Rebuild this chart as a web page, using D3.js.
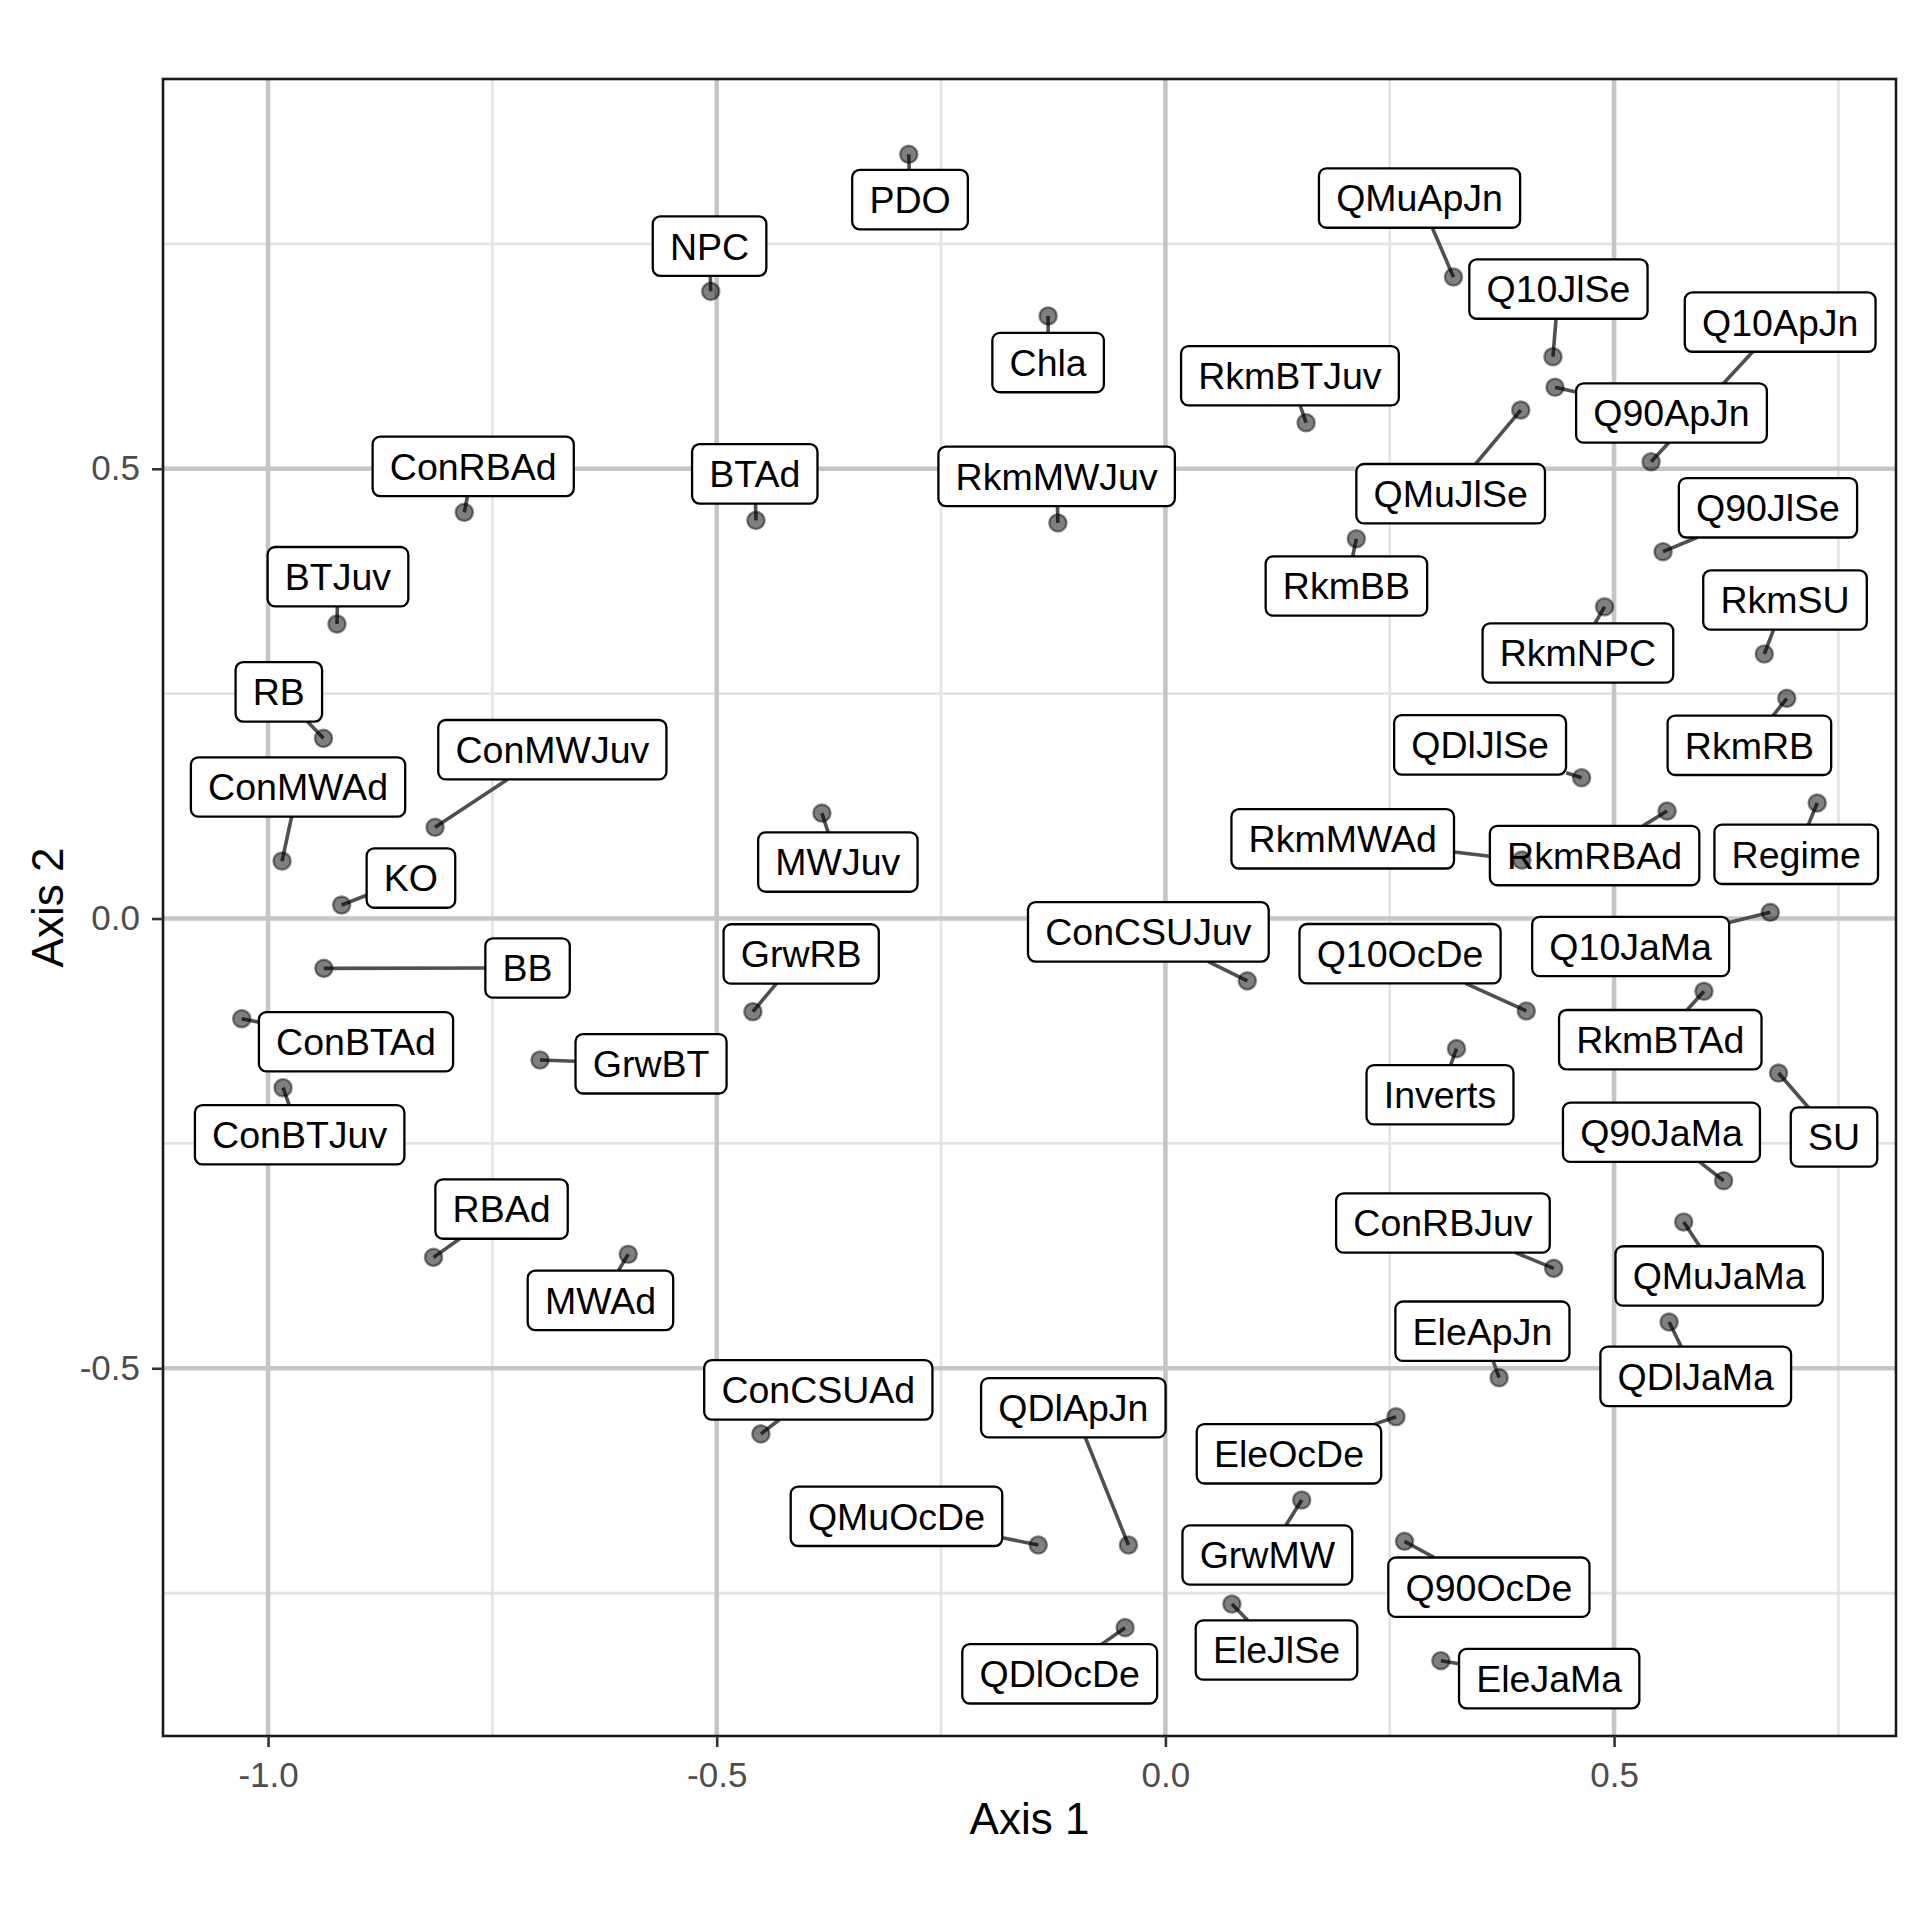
<!DOCTYPE html>
<html>
<head>
<meta charset="utf-8">
<script src="https://cdn.jsdelivr.net/npm/d3@7"></script>
<style>
  body { margin: 0; background: #fff; }
  svg text { font-family: "Liberation Sans", Arial, Helvetica, sans-serif; }
</style>
</head>
<body>
<svg id="chart"></svg>
<script>
// ordination scores (Axis 1 / Axis 2)
const names = ["PDO","NPC","Chla","QMuApJn","Q10JlSe","Q90ApJn","Q10ApJn","RkmBTJuv","QMuJlSe","Q90JlSe",
  "RkmBB","RkmNPC","RkmSU","RkmRB","QDlJlSe","RkmRBAd","RkmMWAd","Regime","Q10JaMa","Q10OcDe",
  "RkmBTAd","Inverts","SU","Q90JaMa","QMuJaMa","ConRBJuv","QDlJaMa","EleApJn","EleOcDe","QDlApJn",
  "GrwMW","Q90OcDe","QMuOcDe","QDlOcDe","EleJlSe","EleJaMa","ConCSUAd","MWAd","RBAd","GrwBT",
  "GrwRB","MWJuv","ConMWJuv","KO","BB","ConBTAd","ConBTJuv","ConMWAd","RB","BTJuv",
  "ConRBAd","BTAd","RkmMWJuv","ConCSUJuv"];

const axis1 = [-0.2860,-0.5067,-0.1307,0.3210,0.4319,0.4342,0.5413,0.1568,0.3960,0.5546,
  0.2128,0.4894,0.6674,0.6925,0.4638,0.5591,0.3971,0.7264,0.6741,0.4022,
  0.6002,0.3244,0.6833,0.6221,0.5776,0.4327,0.5613,0.3719,0.2570,-0.0412,
  0.1519,0.2665,-0.1417,-0.0449,0.0741,0.3070,-0.4508,-0.5986,-0.8156,-0.6969,
  -0.4597,-0.3828,-0.8139,-0.9180,-0.9378,-1.0293,-0.9833,-0.9844,-0.9382,-0.9232,
  -0.7813,-0.4563,-0.1198,0.0913];

const axis2 = [0.8496,0.6972,0.6699,0.7132,0.6246,0.5906,0.5078,0.5512,0.5653,0.4078,
  0.4222,0.3466,0.2941,0.2448,0.1565,0.1195,0.0650,0.1284,0.0069,-0.1028,
  -0.0809,-0.1447,-0.1718,-0.2915,-0.3374,-0.3889,-0.4486,-0.5105,-0.5539,-0.6965,
  -0.6465,-0.6924,-0.6965,-0.7884,-0.7621,-0.8251,-0.5730,-0.3733,-0.3767,-0.1573,
  -0.1036,0.1172,0.1014,0.0150,-0.0554,-0.1114,-0.1881,0.0639,0.2003,0.3274,
  0.4516,0.4426,0.4398,-0.0693];

// where the repelled labels ended up (data units)
const labelAxis1 = [-0.2846,-0.5080,-0.1307,0.2832,0.4380,0.5640,0.6851,0.1388,0.3179,0.6715,
  0.2017,0.4597,0.6905,0.6508,0.3507,0.4783,0.1976,0.7030,0.5185,0.2615,
  0.5515,0.3060,0.7451,0.5528,0.6171,0.3093,0.5910,0.3533,0.1377,-0.1026,
  0.1136,0.3605,-0.2997,-0.1178,0.1238,0.4277,-0.3868,-0.6296,-0.7398,-0.5732,
  -0.4059,-0.3650,-0.6832,-0.8408,-0.7108,-0.9020,-0.9648,-0.9666,-0.9880,-0.9221,
  -0.7714,-0.4576,-0.1212,-0.0190];

const labelAxis2 = [0.7992,0.7475,0.6181,0.8010,0.6998,0.5620,0.6631,0.6034,0.4723,0.4566,
  0.3697,0.2952,0.3541,0.1926,0.1931,0.0700,0.0886,0.0714,-0.0311,-0.0391,
  -0.1347,-0.1959,-0.2429,-0.2376,-0.3974,-0.3385,-0.5090,-0.4588,-0.5951,-0.5439,
  -0.7076,-0.7434,-0.6646,-0.8397,-0.8132,-0.8451,-0.5240,-0.4245,-0.3230,-0.1615,
  -0.0394,0.0628,0.1877,0.0450,-0.0550,-0.1370,-0.2404,0.1462,0.2520,0.3800,
  0.5027,0.4943,0.4916,-0.0148];

const xTicks = [-1.0, -0.5, 0.0, 0.5];
const yTicks = [-0.5, 0.0, 0.5];
const xMinor = [-0.75, -0.25, 0.25, 0.75];
const yMinor = [-0.75, -0.25, 0.25, 0.75];
const xTitle = "Axis 1";
const yTitle = "Axis 2";

class OrdPlot {

  constructor(_config, _data) {
    this.config = {
      parentElement: _config.parentElement,
      containerWidth: _config.containerWidth || 1920,
      containerHeight: _config.containerHeight || 1920,
      margin: {top: 79, right: 24, bottom: 184, left: 163},
      labelSize: 37.5,
      labelPad: 17.2,
      labelHeight: 59.4
    }
    this.data = _data;
    this.initVis();
  }

  initVis() {
    let vis = this;

    vis.width = vis.config.containerWidth - vis.config.margin.left - vis.config.margin.right;
    vis.height = vis.config.containerHeight - vis.config.margin.top - vis.config.margin.bottom;

    vis.svg = d3.select(vis.config.parentElement)
      .attr('width', vis.config.containerWidth)
      .attr('height', vis.config.containerHeight);

    vis.svg.append('rect')
      .attr('width', vis.config.containerWidth)
      .attr('height', vis.config.containerHeight)
      .attr('fill', '#fff');

    vis.chart = vis.svg.append('g')
      .attr('transform', `translate(${vis.config.margin.left}, ${vis.config.margin.top})`);

    // ggplot style 5% expansion on both axes
    let ex = d3.extent(vis.data, d => d.x);
    let ey = d3.extent(vis.data, d => d.y);
    let px = (ex[1] - ex[0]) * 0.05, py = (ey[1] - ey[0]) * 0.05;

    vis.xScale = d3.scaleLinear()
      .domain([ex[0] - px, ex[1] + px])
      .range([0, vis.width]);

    vis.yScale = d3.scaleLinear()
      .domain([ey[0] - py, ey[1] + py])
      .range([vis.height, 0]);

    vis.xAxis = d3.axisBottom(vis.xScale)
      .tickValues(xTicks)
      .tickFormat(d => d.toFixed(1))
      .tickSizeOuter(0)
      .tickSize(11)
      .tickPadding(15);

    vis.yAxis = d3.axisLeft(vis.yScale)
      .tickValues(yTicks)
      .tickFormat(d => d.toFixed(1))
      .tickSizeOuter(0)
      .tickSize(11)
      .tickPadding(12);
  }

  updateVis() {
    let vis = this;

    // grid
    let grid = vis.chart.append('g');
    grid.selectAll('.xminor').data(xMinor).enter().append('line')
      .attr('x1', d => vis.xScale(d)).attr('x2', d => vis.xScale(d))
      .attr('y1', 0).attr('y2', vis.height)
      .attr('stroke', '#e3e3e3').attr('stroke-width', 2.6);
    grid.selectAll('.yminor').data(yMinor).enter().append('line')
      .attr('y1', d => vis.yScale(d)).attr('y2', d => vis.yScale(d))
      .attr('x1', 0).attr('x2', vis.width)
      .attr('stroke', '#e3e3e3').attr('stroke-width', 2.6);
    grid.selectAll('.xmajor').data(xTicks).enter().append('line')
      .attr('x1', d => vis.xScale(d)).attr('x2', d => vis.xScale(d))
      .attr('y1', 0).attr('y2', vis.height)
      .attr('stroke', '#c6c6c6').attr('stroke-width', 4.6);
    grid.selectAll('.ymajor').data(yTicks).enter().append('line')
      .attr('y1', d => vis.yScale(d)).attr('y2', d => vis.yScale(d))
      .attr('x1', 0).attr('x2', vis.width)
      .attr('stroke', '#c6c6c6').attr('stroke-width', 4.6);

    let segLayer = vis.chart.append('g');
    let labelLayer = vis.chart.append('g');
    let pointLayer = vis.chart.append('g');

    // labels first so the text can be measured
    let lab = labelLayer.selectAll('g')
      .data(vis.data)
      .enter()
      .append('g')
        .attr('transform', d => `translate(${vis.xScale(d.lx)}, ${vis.yScale(d.ly)})`);

    lab.append('rect');
    lab.append('text')
      .attr('text-anchor', 'middle')
      .attr('y', vis.config.labelSize * 0.716 / 2)
      .style('font-size', vis.config.labelSize + 'px')
      .attr('fill', '#000')
      .text(d => d.name);

    lab.each(function(d) {
      let g = d3.select(this);
      d.w = g.select('text').node().getComputedTextLength() + 2 * vis.config.labelPad;
      d.h = vis.config.labelHeight;
      g.select('rect')
        .attr('x', -d.w / 2).attr('y', -d.h / 2)
        .attr('width', d.w).attr('height', d.h)
        .attr('rx', 7.5).attr('ry', 7.5)
        .attr('fill', '#fff')
        .attr('stroke', '#000')
        .attr('stroke-width', 2.3);
    });

    // segment from the point towards the label centre, stopped at the box edge
    vis.data.forEach(d => {
      let cx = vis.xScale(d.lx), cy = vis.yScale(d.ly);
      let x0 = vis.xScale(d.x), y0 = vis.yScale(d.y);
      let dx = x0 - cx, dy = y0 - cy;
      let s = Math.min(dx === 0 ? Infinity : (d.w / 2) / Math.abs(dx),
                       dy === 0 ? Infinity : (d.h / 2) / Math.abs(dy));
      d.sx = cx + dx * s;
      d.sy = cy + dy * s;
      d.hasSeg = s < 1;
    });

    segLayer.selectAll('line')
      .data(vis.data.filter(d => d.hasSeg))
      .enter()
      .append('line')
        .attr('x1', d => vis.xScale(d.x))
        .attr('y1', d => vis.yScale(d.y))
        .attr('x2', d => d.sx)
        .attr('y2', d => d.sy)
        .attr('stroke', '#4f4f4f')
        .attr('stroke-width', 3.6);

    pointLayer.selectAll('circle')
      .data(vis.data)
      .enter()
      .append('circle')
        .attr('cx', d => vis.xScale(d.x))
        .attr('cy', d => vis.yScale(d.y))
        .attr('r', 8.6)
        .attr('fill', '#000')
        .attr('fill-opacity', 0.5)
        .attr('stroke', '#000')
        .attr('stroke-opacity', 0.45)
        .attr('stroke-width', 2.4);

    // panel border
    vis.chart.append('rect')
      .attr('width', vis.width)
      .attr('height', vis.height)
      .attr('fill', 'none')
      .attr('stroke', '#1a1a1a')
      .attr('stroke-width', 2.6);

    vis.xAxisGroup = vis.chart.append('g')
      .attr('transform', `translate(0, ${vis.height})`)
      .call(vis.xAxis);
    vis.yAxisGroup = vis.chart.append('g')
      .call(vis.yAxis);

    [vis.xAxisGroup, vis.yAxisGroup].forEach(g => {
      g.select('.domain').remove();
      g.selectAll('.tick line').attr('stroke', '#333').attr('stroke-width', 2.6);
      g.selectAll('.tick text')
        .attr('fill', '#4d4d4d')
        .style('font-size', '35px');
    });

    vis.svg.append('text')
      .attr('x', vis.config.margin.left + vis.width / 2)
      .attr('y', 1834)
      .attr('text-anchor', 'middle')
      .style('font-size', '44px')
      .attr('fill', '#000')
      .text(xTitle);

    vis.svg.append('text')
      .attr('transform', `translate(63, ${vis.config.margin.top + vis.height / 2}) rotate(-90)`)
      .attr('text-anchor', 'middle')
      .style('font-size', '44px')
      .attr('fill', '#000')
      .text(yTitle);
  }
}

const rows = names.map((n, i) => ({
  name: n, x: axis1[i], y: axis2[i], lx: labelAxis1[i], ly: labelAxis2[i]
}));

const plot = new OrdPlot({parentElement: '#chart'}, rows);
plot.updateVis();
</script>
</body>
</html>
